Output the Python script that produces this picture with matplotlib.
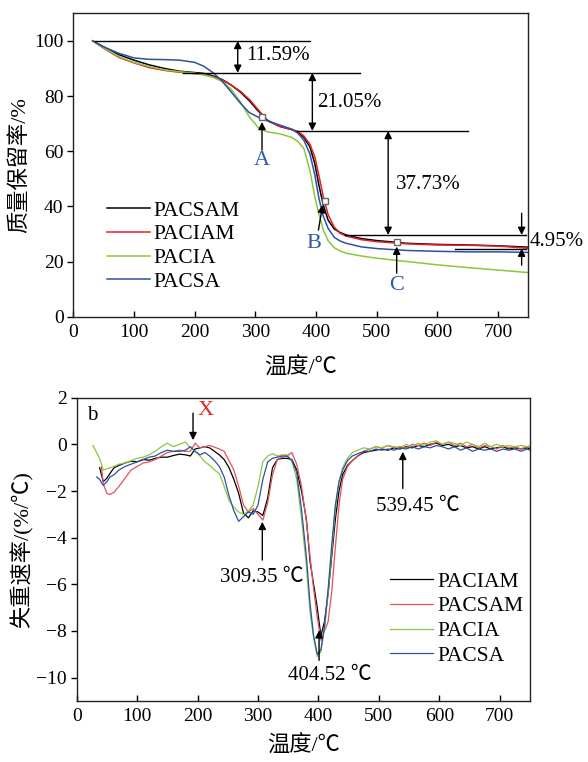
import numpy as np
import matplotlib
matplotlib.use("Agg")
import matplotlib.pyplot as plt

plt.rcParams["font.family"] = ["Liberation Serif", "Noto Sans CJK SC", "DejaVu Sans"]
plt.rcParams["font.size"] = 15
plt.rcParams["axes.unicode_minus"] = True

# ----------------------------------------------------------------------
# TGA data (upper panel), mass retention %
# ----------------------------------------------------------------------
tga_T = [32, 50, 75, 100, 125, 150, 175, 200, 215, 230, 245, 260, 275, 290,
         305, 320, 340, 360, 370, 380, 390, 398, 405, 412, 420, 430, 440,
         450, 475, 500, 550, 600, 650, 700, 750]
tga_pacsam = [100, 97.8, 95.0, 93.0, 91.3, 90.0, 89.0, 88.5, 88.2, 87.3, 86.0,
              84.0, 81.5, 78.3, 74.5, 71.2, 69.0, 67.8, 67.0, 65.0, 61.6, 55.5,
              47.5, 40.5, 35.0, 31.8, 30.5, 29.6, 28.3, 27.6, 26.6, 26.2, 26.0,
              25.7, 25.2]
tga_paciam = [100, 97.3, 94.0, 92.0, 90.3, 89.3, 88.6, 88.1, 87.9, 87.0, 85.8,
              84.0, 81.8, 78.8, 75.0, 71.0, 69.0, 67.9, 67.2, 65.5, 62.5, 58.0,
              51.0, 43.5, 37.0, 32.5, 30.2, 29.2, 27.9, 27.2, 26.4, 26.0, 25.9,
              25.6, 24.8]
tga_pacia = [100, 97.5, 94.3, 92.2, 90.7, 89.5, 88.8, 88.3, 87.6, 86.8, 85.3,
             82.5, 78.0, 72.5, 68.5, 67.0, 66.3, 65.0, 63.5, 61.0, 53.0, 43.5,
             37.0, 31.5, 27.5, 25.0, 23.8, 23.0, 22.0, 21.2, 20.0, 18.8, 17.8,
             16.9, 16.0]
tga_pacsa = [100, 97.8, 95.5, 93.8, 93.3, 93.2, 93.0, 92.2, 90.8, 88.5, 85.5,
             81.5, 77.5, 74.0, 72.3, 71.0, 69.5, 68.0, 66.5, 64.0, 59.0, 51.5,
             42.7, 36.5, 32.0, 28.8, 27.4, 26.6, 25.3, 24.7, 24.0, 23.7, 23.5,
             23.5, 23.3]
tga_labels = ["PACSAM", "PACIAM", "PACIA", "PACSA"]

# weight-loss steps (%)
steps = [11.59, 21.05, 37.73, 4.95]
# marked points A, B, C
mark_T = [311.5, 415, 533]
mark_w = [72.5, 41.9, 26.9]
mark_names = ["A", "B", "C"]

# ----------------------------------------------------------------------
# DTG data (lower panel), %/degC
# ----------------------------------------------------------------------
nan = np.nan
dtg_T = [27, 33, 38, 41, 44, 50, 55, 62, 70, 80, 90, 100, 110, 120, 130, 140,
         150, 160, 170, 180, 188, 196, 204, 212, 220, 228, 236, 244, 252, 260,
         268, 276, 284, 292, 300, 308, 316, 324, 332, 340, 348, 356, 364, 372,
         380, 386, 392, 398, 404, 410, 416, 422, 428, 434, 440, 448, 456, 465,
         475, 485, 495, 505, 515, 525, 535, 545, 555, 565, 575, 585, 595, 605,
         615, 625, 635, 645, 655, 665, 675, 685, 695, 705, 715, 725, 735, 745,
         750]
dtg_paciam = [nan, nan, -1.0, -1.3, -1.6, -1.45, -1.25, -1.0, -0.9, -0.8, -0.72,
              -0.75, -0.65, -0.68, -0.6, -0.55, -0.55, -0.48, -0.42, -0.45, -0.5,
              -0.2, -0.15, -0.1, -0.15, -0.3, -0.45, -0.65, -1.0, -1.5, -2.1,
              -2.95, -3.15, -2.85, -2.9, -3.05, -2.3, -1.0, -0.65, -0.6, -0.6,
              -0.65, -1.1, -2.0, -3.2, -5.0, -6.0, -7.0, -8.2, -7.6, -6.4, -4.8,
              -3.2, -2.0, -1.3, -0.9, -0.7, -0.5, -0.35, -0.3, -0.25, -0.2,
              -0.25, -0.15, -0.2, -0.1, -0.15, -0.05, -0.1, 0.0, 0.05, -0.05,
              0.0, -0.1, -0.05, -0.15, -0.1, -0.2, -0.1, -0.2, -0.15, -0.1,
              -0.2, -0.15, -0.2, -0.15, -0.2]
dtg_pacsam = [nan, nan, nan, -0.96, -1.7, -2.1, -2.15, -2.05, -1.8, -1.45, -1.1,
              -0.95, -0.8, -0.75, -0.65, -0.5, -0.35, -0.3, -0.25, -0.3, -0.3,
              0.05, -0.15, -0.1, -0.05, -0.12, -0.2, -0.3, -0.7, -1.1, -1.8,
              -2.6, -2.9, -2.75, -3.0, -3.25, -2.5, -1.3, -0.65, -0.55, -0.5,
              -0.35, -0.85, -1.8, -3.3, -4.8, -6.2, -7.4, -8.4, -8.0, -7.6,
              -6.3, -4.4, -2.6, -1.5, -0.95, -0.7, -0.5, -0.3, -0.2, -0.1,
              -0.15, -0.05, -0.15, -0.1, -0.15, 0.0, -0.05, 0.05, -0.05, 0.1,
              0.0, 0.1, -0.05, 0.05, -0.1, 0.0, -0.15, -0.05, -0.1, -0.2,
              -0.05, -0.15, -0.1, -0.2, -0.1, -0.15]
dtg_pacia = [-0.05, -0.35, -0.6, -0.85, -1.1, -1.05, -1.0, -0.95, -0.85, -0.8,
             -0.7, -0.6, -0.55, -0.45, -0.3, -0.1, 0.05, -0.1, 0.0, 0.1, -0.15,
             -0.3, -0.5, -0.75, -0.9, -1.1, -1.25, -1.8, -2.4, -2.7, -2.9, -3.0,
             -2.85, -2.6, -1.8, -0.75, -0.5, -0.4, -0.5, -0.45, -0.45, -0.7,
             -1.5, -3.2, -5.2, -7.2, -8.3, -9.1, -8.9, -7.9, -6.4, -4.6, -2.7,
             -1.6, -1.0, -0.6, -0.35, -0.25, -0.15, -0.2, -0.1, -0.15, -0.05,
             -0.1, -0.15, 0.0, -0.1, 0.05, -0.05, 0.1, 0.15, 0.0, 0.1, 0.05,
             -0.05, 0.1, 0.0, -0.1, 0.05, -0.1, 0.0, -0.1, -0.05, -0.1, -0.05,
             -0.1, -0.05]
dtg_pacsa = [nan, -1.4, -1.5, -1.65, -1.75, -1.6, -1.4, -1.3, -1.1, -0.95, -0.85,
             -0.75, -0.65, -0.55, -0.5, -0.35, -0.25, -0.3, -0.3, -0.25, -0.1,
             -0.3, -0.45, -0.35, -0.5, -0.7, -0.95, -1.4, -2.2, -2.85, -3.3,
             -3.1, -2.9, -3.0, -2.6, -1.5, -0.75, -0.6, -0.55, -0.5, -0.5, -0.7,
             -1.2, -2.8, -4.8, -6.8, -8.2, -9.0, -8.8, -7.8, -6.2, -4.3, -2.6,
             -1.6, -1.1, -0.7, -0.5, -0.4, -0.3, -0.3, -0.2, -0.25, -0.2, -0.25,
             -0.15, -0.2, -0.1, -0.2, -0.1, -0.15, -0.05, -0.1, -0.2, -0.1,
             -0.25, -0.15, -0.3, -0.2, -0.25, -0.2, -0.3, -0.2, -0.25, -0.2,
             -0.3, -0.2, -0.25]
dtg_labels = ["PACIAM", "PACSAM", "PACIA", "PACSA"]

# arrow positions and printed peak temperatures
peak_T = [192.5, 307.1, 401.0, 539.5]
peak_txt = ["309.35 ℃", "404.52 ℃", "539.45 ℃"]

# ----------------------------------------------------------------------
BLACK = "#000000"
RED = "#e3202b"
RED2 = "#e6505c"
GREEN = "#8cc63e"
BLUE = "#2b52a4"
LBLUE = "#2e5ca8"
CJK = 16

fig = plt.figure(figsize=(5.88, 7.62), dpi=100)
ax1 = fig.add_axes([0.1247, 0.5844, 0.7738, 0.3982])
ax2 = fig.add_axes([0.1304, 0.0801, 0.7710, 0.3980])

# ---------------- upper panel ----------------
for vals, lab, col in zip([tga_pacsam, tga_paciam, tga_pacia, tga_pacsa],
                          tga_labels, [BLACK, RED, GREEN, BLUE]):
    ax1.plot(tga_T, vals, color=col, lw=1.1, label=lab)

ax1.plot(mark_T, mark_w, ls="none", marker="s", ms=4.5, mfc="white",
         mec="#666666", mew=1.0, zorder=5)

levels = 100 - np.concatenate([[0], np.cumsum(steps)])
kw = dict(color="k", lw=1.0)
ax1.plot([36, 390], [levels[0]] * 2, **kw)
ax1.plot([180, 473], [levels[1]] * 2, **kw)
ax1.plot([368, 650], [levels[2]] * 2, **kw)
ax1.plot([448, 747], [levels[3]] * 2, **kw)
ax1.plot([629, 747], [levels[4]] * 2, **kw)

dbl = dict(arrowstyle="<|-|>", color="k", lw=1.0, mutation_scale=11,
           shrinkA=0, shrinkB=0)
one = dict(arrowstyle="-|>", color="k", lw=1.0, mutation_scale=11,
           shrinkA=0, shrinkB=0)
ax1.annotate("", xy=(271, levels[1]), xytext=(271, levels[0]), arrowprops=dbl)
ax1.annotate("", xy=(394, levels[2]), xytext=(394, levels[1]), arrowprops=dbl)
ax1.annotate("", xy=(519, levels[3]), xytext=(519, levels[2]), arrowprops=dbl)
ax1.annotate("", xy=(739, levels[3]), xytext=(739, 37.5), arrowprops=one)
ax1.annotate("", xy=(739, levels[4]), xytext=(739, 18.7), arrowprops=one)

ax1.text(285, 94.6, f"{steps[0]:.2f}%", va="center", ha="left")
ax1.text(402, 77.7, f"{steps[1]:.2f}%", va="center", ha="left")
ax1.text(532, 48.1, f"{steps[2]:.2f}%", va="center", ha="left")
ax1.text(752, 27.1, f"{steps[3]:.2f}%", va="center", ha="left", clip_on=False)

lab_pos = [(311, 56.8), (396, 26.6), (533, 11.4)]
arr_pos = [((311, 60.4), (311, 70.6)), ((404, 31.4), (411, 40.5)),
           ((533, 15.8), (533, 25.4))]
for name, (tx, ty), (tail, tip) in zip(mark_names, lab_pos, arr_pos):
    ax1.text(tx, ty, name, color=LBLUE, ha="center", va="center", fontsize=16)
    ax1.annotate("", xy=tip, xytext=tail, arrowprops=one)

ax1.set_xlim(0, 750)
ax1.set_ylim(0, 110)
ax1.set_xticks(np.arange(0, 701, 100))
ax1.set_yticks(np.arange(0, 101, 20))
ax1.set_xlabel("温度/℃", labelpad=12, fontsize=CJK)
ax1.set_ylabel("质量保留率/%", labelpad=3, fontsize=CJK)
ax1.legend(loc="center left", bbox_to_anchor=(0.073, 0.232), frameon=False,
           handlelength=2.0, handletextpad=0.2, labelspacing=0.17,
           borderpad=0, borderaxespad=0, fontsize=15.5)

# ---------------- lower panel ----------------
for vals, lab, col in zip([dtg_paciam, dtg_pacsam, dtg_pacia, dtg_pacsa],
                          dtg_labels, [BLACK, RED2, GREEN, BLUE]):
    ax2.plot(dtg_T, vals, color=col, lw=0.9, label=lab)

ax2.annotate("", xy=(peak_T[0], 0.18), xytext=(peak_T[0], 1.34), arrowprops=one)
ax2.text(213.5, 1.47, "X", color="#e02a2a", ha="center", va="center", fontsize=16)
ax2.annotate("", xy=(peak_T[1], -3.32), xytext=(peak_T[1], -4.96), arrowprops=one)
ax2.text(305.8, -5.71, peak_txt[0], ha="center", va="center")
ax2.annotate("", xy=(peak_T[2], -7.97), xytext=(peak_T[2], -9.26), arrowprops=one)
ax2.text(419, -9.9, peak_txt[1], ha="center", va="center")
ax2.annotate("", xy=(peak_T[3], -0.32), xytext=(peak_T[3], -1.89), arrowprops=one)
ax2.text(564.7, -2.65, peak_txt[2], ha="center", va="center")
ax2.text(0.022, 0.94, "b", transform=ax2.transAxes, ha="left", va="center")

ax2.set_xlim(0, 750)
ax2.set_ylim(-11, 2)
ax2.set_xticks(np.arange(0, 701, 100))
ax2.set_yticks(np.arange(-10, 3, 2))
ax2.set_xlabel("温度/℃", labelpad=8, fontsize=CJK)
ax2.set_ylabel("失重速率/(%/℃)", labelpad=2, fontsize=CJK)
ax2.legend(loc="center left", bbox_to_anchor=(0.691, 0.271), frameon=False,
           handlelength=2.0, handletextpad=0.2, labelspacing=0.22,
           borderpad=0, borderaxespad=0, fontsize=15.5)

for ax in (ax1, ax2):
    for sp in ax.spines.values():
        sp.set_linewidth(1.0)
        sp.set_color("#222222")
    ax.tick_params(axis="x", direction="in", length=4, width=1.0, pad=5,
                   labelsize=14, top=False)
    ax.tick_params(axis="y", direction="out", length=4, width=1.0, pad=3,
                   labelsize=14, right=False)

fig.savefig("out.png", dpi=100)
